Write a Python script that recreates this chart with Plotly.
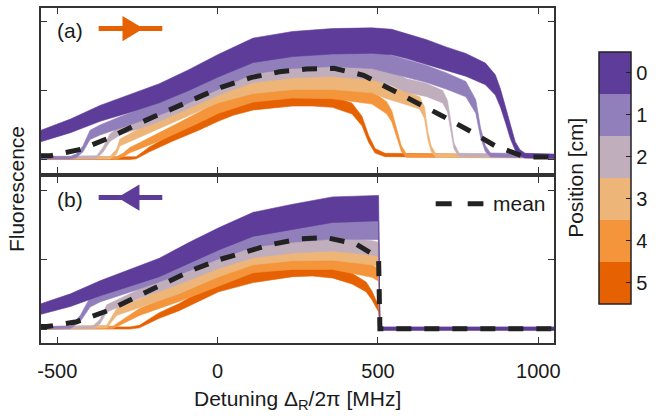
import math
import plotly.graph_objects as go

# ---------------------------------------------------------------------------
# Fluorescence vs. Raman detuning (MHz), six probe positions (cm)
# (a) sweep towards positive detuning, (b) sweep towards negative detuning
# ---------------------------------------------------------------------------
positions = [0, 1, 2, 3, 4, 5]
position_labels = ["0", "1", "2", "3", "4", "5"]

# panel (a)
a_det_0 = [-560, -459, -367, -274, -182, -90, 3, 111, 234, 358, 481, 543, 589, 650, 712, 774, 835, 866, 882, 897, 913, 928, 943, 959, 1060]
a_flu_0 = [0.33, 0.49, 0.67, 0.81, 0.96, 1.15, 1.36, 1.58, 1.67, 1.71, 1.72, 1.70, 1.64, 1.56, 1.46, 1.37, 1.24, 1.08, 0.89, 0.66, 0.39, 0.20, 0.10, 0.06, 0.05]
a_det_1 = [-560, -459, -440, -420, -398, -367, -305, -244, -182, -120, -59, 3, 111, 234, 358, 481, 527, 589, 650, 712, 774, 805, 820, 835, 851, 1060]
a_flu_1 = [0.03, 0.03, 0.06, 0.16, 0.36, 0.43, 0.54, 0.64, 0.74, 0.86, 1.00, 1.14, 1.37, 1.45, 1.48, 1.45, 1.40, 1.32, 1.24, 1.14, 1.02, 0.77, 0.39, 0.16, 0.07, 0.05]
a_det_2 = [-560, -377, -357, -336, -305, -244, -182, -120, -59, 3, 111, 234, 358, 481, 543, 589, 650, 702, 717, 727, 737, 753, 1060]
a_flu_2 = [0.03, 0.04, 0.15, 0.32, 0.42, 0.52, 0.63, 0.76, 0.90, 1.03, 1.22, 1.29, 1.31, 1.26, 1.17, 1.07, 1.01, 0.91, 0.77, 0.49, 0.20, 0.07, 0.05]
a_det_3 = [-560, -336, -315, -305, -244, -182, -120, -59, 3, 111, 234, 358, 481, 527, 589, 630, 645, 656, 666, 681, 1060]
a_flu_3 = [0.03, 0.03, 0.12, 0.25, 0.39, 0.53, 0.66, 0.79, 0.92, 1.06, 1.12, 1.12, 1.07, 0.98, 0.89, 0.82, 0.68, 0.34, 0.16, 0.06, 0.05]
a_det_4 = [-560, -315, -295, -274, -244, -182, -120, -59, 3, 111, 234, 358, 481, 527, 543, 558, 573, 589, 1060]
a_flu_4 = [0.03, 0.03, 0.07, 0.14, 0.20, 0.33, 0.47, 0.61, 0.76, 0.93, 0.99, 0.98, 0.90, 0.75, 0.63, 0.39, 0.16, 0.06, 0.05]
a_det_5 = [-560, -274, -254, -213, -141, -59, 3, 49, 111, 234, 296, 358, 419, 450, 471, 491, 522, 1060]
a_flu_5 = [0.02, 0.02, 0.03, 0.15, 0.32, 0.49, 0.63, 0.72, 0.80, 0.86, 0.86, 0.84, 0.74, 0.56, 0.30, 0.13, 0.07, 0.05]
a_mean_det = [-560, -521, -428, -336, -244, -162, -69, 13, 106, 193, 276, 363, 455, 532, 620, 702, 789, 866, 959, 1060]
a_mean_flu = [0.06, 0.06, 0.15, 0.32, 0.53, 0.70, 0.89, 1.05, 1.19, 1.27, 1.31, 1.32, 1.22, 1.04, 0.82, 0.63, 0.41, 0.20, 0.04, 0.04]

# panel (b)
b_det_0 = [-560, -459, -367, -274, -182, -90, 3, 111, 234, 358, 481, 502, 506, 1060]
b_flu_0 = [0.28, 0.42, 0.59, 0.74, 0.89, 1.10, 1.30, 1.51, 1.62, 1.72, 1.74, 1.74, 0.01, 0.01]
b_det_1 = [-560, -459, -428, -398, -367, -244, -120, 3, 111, 234, 358, 481, 502, 506, 1060]
b_flu_1 = [0.02, 0.03, 0.16, 0.39, 0.47, 0.67, 0.89, 1.13, 1.31, 1.38, 1.43, 1.42, 1.42, 0.01, 0.01]
b_det_2 = [-560, -390, -367, -346, -244, -120, 3, 111, 234, 358, 481, 502, 506, 1060]
b_flu_2 = [0.02, 0.03, 0.11, 0.30, 0.51, 0.73, 0.97, 1.13, 1.20, 1.23, 1.17, 1.15, 0.01, 0.01]
b_det_3 = [-560, -346, -315, -244, -120, 3, 111, 234, 358, 481, 502, 506, 1060]
b_flu_3 = [0.02, 0.04, 0.25, 0.37, 0.59, 0.85, 1.03, 1.09, 1.10, 1.03, 1.00, 0.01, 0.01]
b_det_4 = [-560, -326, -295, -244, -120, 3, 111, 234, 358, 481, 502, 506, 1060]
b_flu_4 = [0.02, 0.03, 0.11, 0.25, 0.47, 0.70, 0.91, 0.96, 0.96, 0.84, 0.78, 0.01, 0.01]
b_det_5 = [-560, -274, -244, -182, -120, -59, 3, 111, 234, 296, 358, 419, 463, 481, 491, 502, 506, 1060]
b_flu_5 = [0.02, 0.02, 0.04, 0.20, 0.32, 0.47, 0.61, 0.75, 0.84, 0.85, 0.82, 0.73, 0.61, 0.49, 0.39, 0.30, 0.01, 0.01]
b_mean_det = [-560, -532, -439, -336, -244, -162, -80, 3, 80, 167, 255, 337, 430, 491, 502, 506, 1060]
b_mean_flu = [0.04, 0.04, 0.11, 0.28, 0.49, 0.68, 0.85, 1.00, 1.11, 1.22, 1.30, 1.32, 1.23, 1.06, 1.00, 0.01, 0.01]

x_tick_vals = [-500, 0, 500, 1000]
x_tick_text = ["-500", "0", "500", "1000"]

# ---------------------------------------------------------------------------
# styling
# ---------------------------------------------------------------------------
COLORS = ["#5e3c99", "#907fbb", "#c1aebc", "#eeb579", "#f4953c", "#e66101"]
NOISE = [0.14, 0.11, 0.095, 0.10, 0.10, 0.09]   # shot-noise band scale per position
FONT = "Liberation Sans, Arial, Helvetica, sans-serif"
INK = "#1a1a1a"
FRAME = "#333333"
W, H = 659, 416
L, R, T, B = 41, 557, 6, 343          # plot area in pixels


def fx(p):
    return (p - L) / (R - L)


def fy(p):
    return (B - p) / (B - T)


panels = {
    "a": ([a_det_0, a_det_1, a_det_2, a_det_3, a_det_4, a_det_5],
          [a_flu_0, a_flu_1, a_flu_2, a_flu_3, a_flu_4, a_flu_5],
          a_mean_det, a_mean_flu, "x", "y"),
    "b": ([b_det_0, b_det_1, b_det_2, b_det_3, b_det_4, b_det_5],
          [b_flu_0, b_flu_1, b_flu_2, b_flu_3, b_flu_4, b_flu_5],
          b_mean_det, b_mean_flu, "x2", "y2"),
}

fig = go.Figure()

for key, (dets, flus, mdet, mflu, xa, ya) in panels.items():
    # draw position 5 first so position 0 ends up on top
    for i in reversed(range(len(positions))):
        d, f = dets[i], flus[i]
        half = [NOISE[i] * math.sqrt(max(v, 0.03)) for v in f]
        upper = [v + h for v, h in zip(f, half)]
        lower = [v - h for v, h in zip(f, half)]
        fig.add_trace(go.Scatter(
            x=d + d[::-1], y=upper + lower[::-1],
            fill="toself", fillcolor=COLORS[i],
            line=dict(color=COLORS[i], width=0.6),
            mode="lines", hoverinfo="skip", showlegend=False,
            xaxis=xa, yaxis=ya,
        ))
    fig.add_trace(go.Scatter(
        x=mdet, y=mflu, mode="lines",
        line=dict(color="#222222", width=5, dash="15px,13px"),
        showlegend=False, hoverinfo="skip", xaxis=xa, yaxis=ya,
    ))

# colour bar for the probe position
n = len(positions)
scale = []
for k in range(n):
    c = COLORS[n - 1 - k]
    scale.append([k / n, c])
    scale.append([(k + 1) / n, c])
fig.add_trace(go.Scatter(
    x=[None], y=[None], mode="markers", showlegend=False, hoverinfo="skip",
    marker=dict(
        color=[0], cmin=-(n - 0.5), cmax=0.5, colorscale=scale, showscale=True,
        colorbar=dict(
            x=fx(602), xanchor="left", xpad=0, ypad=0,
            y=fy(177), yanchor="middle", len=254 / (B - T), lenmode="fraction",
            thickness=32, thicknessmode="pixels",
            outlinewidth=1.5, outlinecolor="#222222",
            tickvals=[-p for p in positions], ticktext=position_labels,
            ticks="inside", ticklen=5, tickcolor="#222222", tickwidth=1,
            tickfont=dict(family=FONT, size=20, color=INK),
        ),
    ),
))

axis_common = dict(
    showline=True, linecolor=FRAME, linewidth=1.5, mirror="ticks",
    ticks="inside", ticklen=6, tickwidth=1, tickcolor=FRAME,
    showgrid=False, zeroline=False,
)
fig.update_layout(
    width=W, height=H,
    margin=dict(l=L, r=W - R, t=T, b=H - B, pad=0),
    paper_bgcolor="white", plot_bgcolor="white",
    font=dict(family=FONT, color=INK),
    xaxis=dict(range=[-551, 1049], domain=[0, 1], anchor="y",
               tickvals=x_tick_vals, showticklabels=False, **axis_common),
    yaxis=dict(range=[-0.19, 2.19], domain=[fy(172), 1], anchor="x",
               tickvals=[0, 1, 2], showticklabels=False, **axis_common),
    xaxis2=dict(range=[-551, 1049], domain=[0, 1], anchor="y2",
                tickvals=x_tick_vals, ticktext=x_tick_text, ticklabelstandoff=9,
                tickfont=dict(family=FONT, size=20, color=INK), **axis_common),
    yaxis2=dict(range=[-0.196, 2.19], domain=[0, fy(176)], anchor="x2",
                tickvals=[0, 1, 2], showticklabels=False, **axis_common),
)

# panel labels, sweep-direction arrows, legend and axis titles
ann = [
    dict(text="(a)", x=fx(70), y=fy(29)),
    dict(text="(b)", x=fx(70), y=fy(199)),
    dict(text="mean", x=fx(494), y=fy(203), xanchor="left"),
    dict(text="Fluorescence", x=fx(17), y=fy(188), textangle=-90),
    dict(text="Position [cm]", x=fx(579), y=fy(177), textangle=-90),
    dict(text="Detuning Δ<sub>R</sub>/2π [MHz]", x=fx(299), y=fy(400)),
]
for a in ann:
    fig.add_annotation(xref="paper", yref="paper", showarrow=False,
                       font=dict(family=FONT, size=21, color=INK),
                       xanchor=a.pop("xanchor", "center"), yanchor="middle", **a)

orange, purple = COLORS[5], COLORS[0]
shapes = [
    # (a) arrow pointing to positive detuning
    dict(type="line", x0=fx(99), x1=fx(163), y0=fy(26.7), y1=fy(26.7),
         line=dict(color=orange, width=5)),
    dict(type="path", path=f"M {fx(123)} {fy(14)} L {fx(144)} {fy(26.7)} L {fx(123)} {fy(39.5)} Z",
         fillcolor=orange, line=dict(color=orange, width=0)),
    # (b) arrow pointing to negative detuning
    dict(type="line", x0=fx(99), x1=fx(163), y0=fy(196.7), y1=fy(196.7),
         line=dict(color=purple, width=5)),
    dict(type="path", path=f"M {fx(140)} {fy(183.5)} L {fx(118)} {fy(196.7)} L {fx(140)} {fy(210)} Z",
         fillcolor=purple, line=dict(color=purple, width=0)),
    # legend sample for the mean curve
    dict(type="line", x0=fx(438), x1=fx(486), y0=fy(203), y1=fy(203),
         line=dict(color="#222222", width=5, dash="16px,16px")),
]
for s in shapes:
    fig.add_shape(xref="paper", yref="paper", **s)

fig.write_html("out.html")
